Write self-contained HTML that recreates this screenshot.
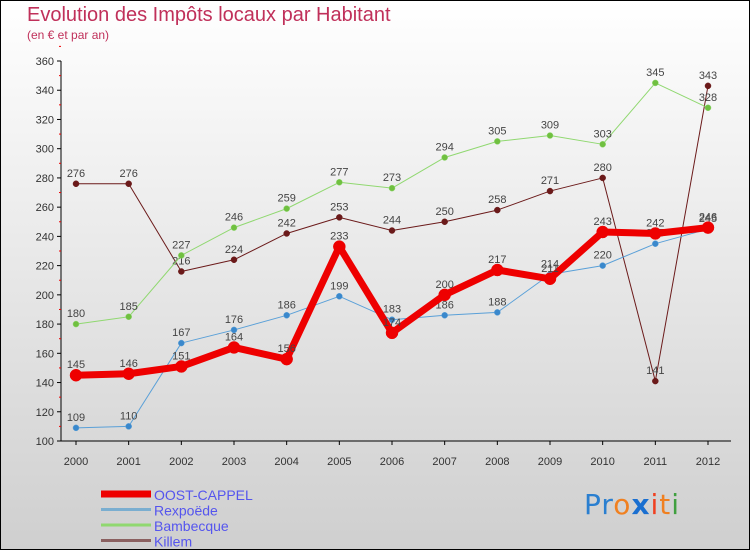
<!DOCTYPE html>
<html><head><meta charset="utf-8"><style>
body{margin:0;width:750px;height:550px;overflow:hidden}
#wrap{position:relative;width:748px;height:548px;border:1px solid #000;background:linear-gradient(#fff,#cfcfcf);font-family:"Liberation Sans",sans-serif}
.t{position:absolute;color:#c0305a}
</style></head><body>
<div id="wrap">
<div class="t" style="left:26px;top:3px;font-size:20px">Evolution des Impôts locaux par Habitant</div>
<div class="t" style="left:26px;top:27px;font-size:12px">(en € et par an)</div>
<svg id="c" width="750" height="550" style="position:absolute;left:0;top:0"></svg>
<div style="position:absolute;left:583px;top:487px;font-size:28px;font-family:'DejaVu Sans',sans-serif;letter-spacing:1px"><span style="color:#2a7fd0">Pr</span><span style="color:#f08020">o</span><span style="color:#1a6fd0;font-weight:bold">x</span><span style="color:#f04020">i</span><span style="color:#f08020">t</span><span style="color:#40a040">i</span></div>
</div>
<script>
const years=[2000,2001,2002,2003,2004,2005,2006,2007,2008,2009,2010,2011,2012];
const oost=[145,146,151,164,156,233,174,200,217,211,243,242,246];
const rex=[109,110,167,176,186,199,183,186,188,214,220,235,245];
const bam=[180,185,227,246,259,277,273,294,305,309,303,345,328];
const kil=[276,276,216,224,242,253,244,250,258,271,280,141,343];
const yTicks=[100,120,140,160,180,200,220,240,260,280,300,320,340,360];
const NS="http://www.w3.org/2000/svg",svg=document.getElementById('c');
const x=i=>75+i*(632/12), y=v=>440-(v-100)*380/260;
function el(t,a,p){const e=document.createElementNS(NS,t);for(const k in a)e.setAttribute(k,a[k]);(p||svg).appendChild(e);return e;}
let ax=el('line',{x1:60,y1:60,x2:60,y2:440,stroke:'#000'});


let xa=el('line',{x1:60,y1:440,x2:730,y2:440,stroke:'#000'});


yTicks.forEach(v=>{
 el('line',{x1:56,y1:y(v),x2:60,y2:y(v),stroke:'#000'});
 el('line',{x1:58,y1:y(v+10),x2:60,y2:y(v+10),stroke:'#e00'});
 const t=el('text',{x:53,y:y(v)+4,'text-anchor':'end','font-size':11,fill:'#333'});t.textContent=v;
 
 
});
years.forEach((yr,i)=>{
 el('line',{x1:x(i),y1:440,x2:x(i),y2:444,stroke:'#000'});
 const t=el('text',{x:x(i),y:464,'text-anchor':'middle','font-size':11,fill:'#333'});t.textContent=yr;
 
 
});
function series(d,col,w,r,name,dot){
 const g=el('g',{});
 
 
 el('polyline',{points:d.map((v,i)=>x(i)+','+y(v)).join(' '),fill:'none',stroke:col,'stroke-width':w,'stroke-linejoin':'round'},g);
 d.forEach((v,i)=>{
  const c=el('circle',{cx:x(i),cy:y(v),r:r,fill:dot,stroke:col,'stroke-width':0.5},g);
  
  
  const t=el('text',{x:x(i),y:y(v)-7,'text-anchor':'middle','font-size':11,fill:'#444'},g);t.textContent=v;
  
  
 });
}
series(kil,'#6b1a1a',1,3,'killem','#6b1a1a');
series(bam,'#90d870',1,3,'bambecque','#70c040');
series(rex,'#5aa0d8',1,3,'rexpoede','#3a88cc');
series(oost,'#ee0000',7,6,'oost-cappel','#ee0000');
const leg=[['OOST-CAPPEL','#ee0000',7],['Rexpoëde','#7aaed0',3],['Bambecque','#90d870',3],['Killem','#8a6060',3]];
leg.forEach((l,i)=>{
 const yy=493+i*15.5;
 const ln=el('line',{x1:100,y1:yy,x2:150,y2:yy,stroke:l[1],'stroke-width':l[2]});
 
 
 const t=el('text',{x:153,y:yy+6,'font-size':14,fill:'#5555ee'});t.textContent=l[0];
 
 
});
</script>
</body></html>
